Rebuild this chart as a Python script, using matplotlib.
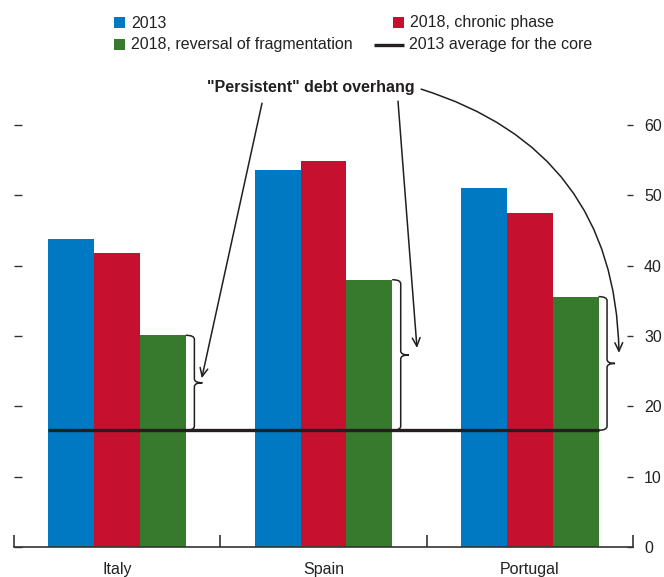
import matplotlib
matplotlib.use("Agg")
import matplotlib.pyplot as plt
from matplotlib import font_manager
from matplotlib.patches import Rectangle, PathPatch
from matplotlib.path import Path
from matplotlib.lines import Line2D
import numpy as np

# ---------------- data ----------------
countries = ["Italy", "Spain", "Portugal"]
series_names = ["2013", "2018, chronic phase", "2018, reversal of fragmentation"]
vals_2013 = [43.8, 53.6, 51.1]
vals_2018_chronic = [41.8, 54.9, 47.5]
vals_2018_reversal = [30.1, 38.0, 35.6]
core_avg_2013 = 16.6
core_name = "2013 average for the core"
annot_text = '"Persistent" debt overhang'
yticks = [0, 10, 20, 30, 40, 50, 60]

colors = ["#0079C2", "#C5112F", "#377A2E"]
dark = "#231F20"

# ---------------- font ----------------
fam = "DejaVu Sans"
for cand in ["Liberation Sans Narrow", "Liberation Sans", "Roboto"]:
    try:
        font_manager.findfont(font_manager.FontProperties(family=cand), fallback_to_default=False)
        fam = cand
        break
    except Exception:
        pass
plt.rcParams["font.family"] = [fam, "DejaVu Sans"]
FS = 11.5

W, H = 664, 577
fig = plt.figure(figsize=(W / 100, H / 100), dpi=100)
fig.patch.set_facecolor("white")

# axes placement in pixels
ax_l, ax_r, ax_b, ax_t = 14, 633, 547, 125
ax = fig.add_axes([ax_l / W, (H - ax_b) / H, (ax_r - ax_l) / W, (ax_b - ax_t) / H])
ax.set_xlim(-0.5, 2.5)
ax.set_ylim(0, 60)

# px -> data conversions
px_x = 3.0 / (ax_r - ax_l)
px_y = 60.0 / (ax_b - ax_t)

x = np.arange(len(countries))
w = 0.222
series = [vals_2013, vals_2018_chronic, vals_2018_reversal]
for k, (vals, c) in enumerate(zip(series, colors)):
    ax.bar(x + (k - 1) * w, vals, width=w, color=c, edgecolor="none", zorder=2)

# core average line
ax.plot([x[0] - 1.5 * w, x[-1] + 1.5 * w], [core_avg_2013] * 2, color=dark, lw=2.4,
        solid_capstyle="butt", zorder=3)

# spines & ticks
for s in ["left", "right", "top"]:
    ax.spines[s].set_visible(False)
ax.spines["bottom"].set_color("#333333")
ax.spines["bottom"].set_linewidth(1.2)

ax.set_yticks(yticks)
ax.tick_params(axis="y", left=True, right=False, labelleft=False, labelright=False,
               direction="in", length=6, width=1.0, color="#333333")

# right axis for labels with shorter ticks
ax2 = ax.twinx()
ax2.set_ylim(ax.get_ylim())
ax2.set_yticks(yticks)
for s in ["left", "right", "top", "bottom"]:
    ax2.spines[s].set_visible(False)
ax2.tick_params(axis="y", right=True, labelright=True, direction="in", length=4,
                width=1.0, color="#333333", labelsize=FS, pad=8, labelcolor="#222222")

ax.set_xticks([-0.5, 0.5, 1.5, 2.5])
ax.set_xticklabels([])
ax.tick_params(axis="x", which="major", direction="in", length=8.5, width=1.2, color="#333333")
ax.set_xticks(x, minor=True)
ax.set_xticklabels(countries, minor=True)
ax.tick_params(axis="x", which="minor", length=0, labelsize=FS, pad=11, labelcolor="#222222")


# braces
def brace(xr, top, bottom, gap_px=8.5, point_px=8, r_px=4):
    xv = xr + gap_px * px_x
    xp = xv + point_px * px_x
    ry = r_px * px_y
    mid = (top + bottom) / 2
    verts = [
        (xr, top), (xv, top), (xv, top - ry),
        (xv, mid + ry), (xv, mid), (xp, mid),
        (xv, mid), (xv, mid - ry),
        (xv, bottom + ry), (xv, bottom), (xr, bottom),
    ]
    codes = [Path.MOVETO, Path.CURVE3, Path.CURVE3,
             Path.LINETO, Path.CURVE3, Path.CURVE3,
             Path.CURVE3, Path.CURVE3,
             Path.LINETO, Path.CURVE3, Path.CURVE3]
    ax.add_patch(PathPatch(Path(verts, codes), fill=False, edgecolor=dark, lw=1.1,
                           clip_on=False, zorder=4))
    return xp, mid


for i, v in enumerate(vals_2018_reversal):
    brace(x[i] + 1.5 * w, v, core_avg_2013)

# annotation text and arrows
ax.text(0.94, 65.3, annot_text, ha="center", va="center", fontsize=FS,
        fontweight="bold", color=dark, clip_on=False)
arrow_kw = dict(arrowstyle="->,head_length=0.6,head_width=0.28", color=dark, lw=1.1,
                shrinkA=0, shrinkB=0, mutation_scale=10)
ax.annotate("", xy=(0.41, 24.0), xytext=(0.702, 63.1),
            arrowprops=dict(**arrow_kw), annotation_clip=False)
ax.annotate("", xy=(1.453, 28.3), xytext=(1.361, 63.4),
            arrowprops=dict(**arrow_kw), annotation_clip=False)
ax.annotate("", xy=(2.432, 27.6), xytext=(1.473, 65.1),
            arrowprops=dict(**arrow_kw, connectionstyle="arc3,rad=-0.36"),
            annotation_clip=False)

# legend (manual, in figure pixels)
def fx(px):
    return px / W


def fy(py):
    return 1 - py / H


legend_items = [
    ("patch", colors[0], series_names[0], 114, 23),
    ("patch", colors[1], series_names[1], 393, 23),
    ("patch", colors[2], series_names[2], 114, 45),
    ("line", dark, core_name, 374, 45),
]
for kind, c, label, px0, py in legend_items:
    if kind == "patch":
        fig.add_artist(Rectangle((fx(px0), fy(py + 5)), 11 / W, 11 / H, transform=fig.transFigure,
                                 facecolor=c, edgecolor="none"))
        tx = px0 + 17
    else:
        fig.add_artist(Line2D([fx(px0), fx(px0 + 30)], [fy(py)] * 2, transform=fig.transFigure,
                              color=c, lw=2.4, solid_capstyle="butt"))
        tx = px0 + 35
    fig.text(fx(tx), fy(py), label, ha="left", va="center", fontsize=FS, color="#222222")

fig.savefig("out.png", dpi=100, facecolor="white")
